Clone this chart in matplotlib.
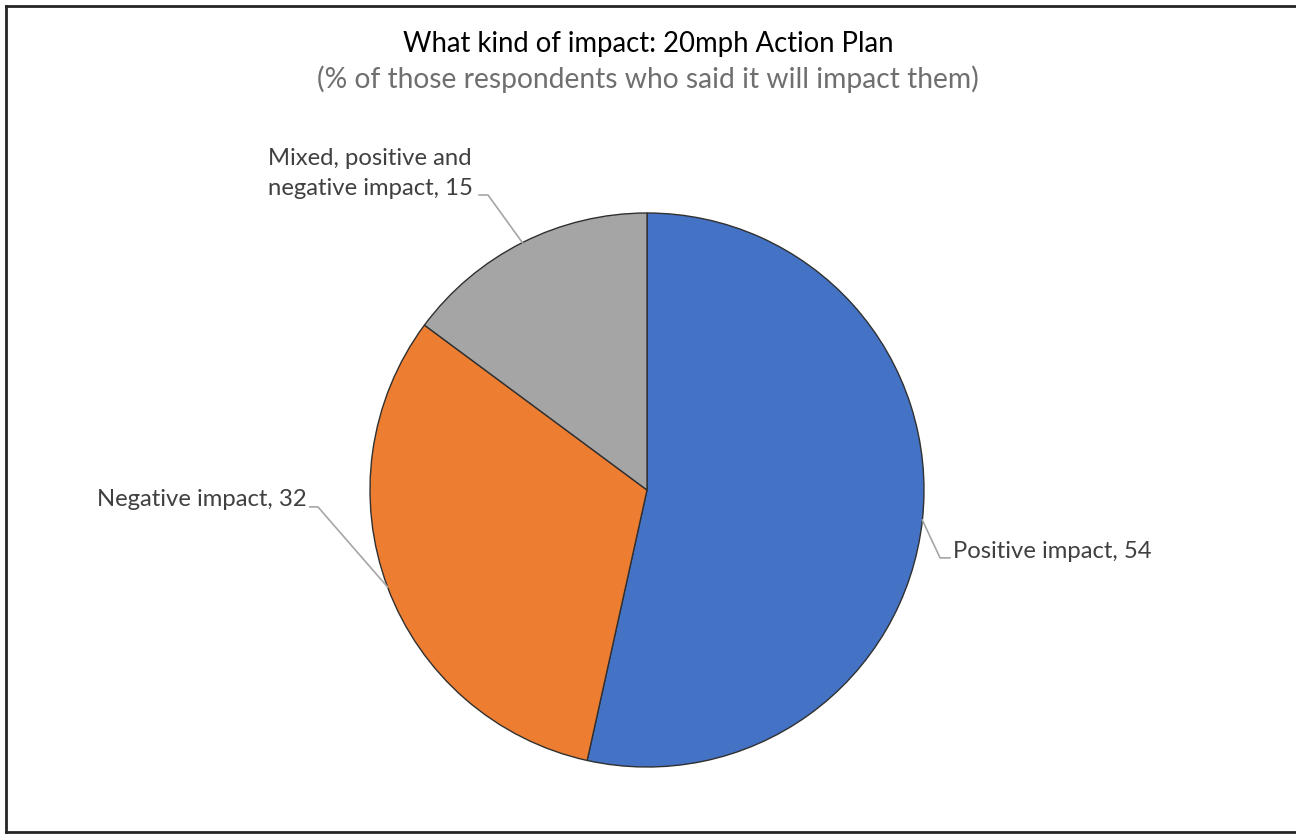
import matplotlib.pyplot as plt
import numpy as np
from matplotlib.lines import Line2D

plt.rcParams['font.family'] = ['Lato', 'DejaVu Sans']

categories = ["Positive impact", "Negative impact", "Mixed, positive and\nnegative impact"]
values = [54, 32, 15]
colors = ["#4472C4", "#ED7D31", "#A5A5A5"]

W, H = 1296, 835
fig = plt.figure(figsize=(W / 100, H / 100), dpi=100)

# pie centre (647, 490) px, radius 277 px
cx, cy, r = 647, 490, 277
ax = fig.add_axes([(cx - r) / W, (H - cy - r) / H, 2 * r / W, 2 * r / H])
wedges, _ = ax.pie(values, colors=colors, startangle=90, counterclock=False,
                   wedgeprops=dict(edgecolor="#303030", linewidth=1.0))
ax.set_xlim(-1, 1)
ax.set_ylim(-1, 1)
ax.set_aspect("equal")

# label placement: (text x, text y, ha, elbow x, elbow y, end x) in pie units
label_pos = [
    (1.105, -0.223, "left", 1.058, -0.245, 1.094),
    (-1.227, -0.035, "right", -1.188, -0.061, -1.217),
    (-1.000, 1.142, "center", -0.574, 1.065, -0.606),
]

for w, name, v, (tx, ty, ha, ex, ey, hx) in zip(wedges, categories, values, label_pos):
    mid = np.deg2rad((w.theta1 + w.theta2) / 2)
    px, py = np.cos(mid), np.sin(mid)
    ax.plot([px, ex, hx], [py, ey, ey], color="#A6A6A6", lw=1.2, clip_on=False)
    ax.text(tx, ty, f"{name}, {v}", ha=ha, va="center", fontsize=17.2,
            color="#404040", multialignment="center", linespacing=1.55,
            clip_on=False)

fig.text(0.5, 1 - 44 / H, "What kind of impact: 20mph Action Plan",
         ha="center", va="center", fontsize=19.8, color="#000000")
fig.text(0.5, 1 - 79 / H, "(% of those respondents who said it will impact them)",
         ha="center", va="center", fontsize=20.3, color="#6F6F6F")

# chart border (left, top, bottom)
bc = "#262626"
fig.add_artist(Line2D([6 / W, 6 / W], [1 - 6 / H, 1 - 832 / H], color=bc, lw=2))
fig.add_artist(Line2D([6 / W, 1], [1 - 6 / H, 1 - 6 / H], color=bc, lw=2))
fig.add_artist(Line2D([6 / W, 1], [1 - 832 / H, 1 - 832 / H], color=bc, lw=2))

fig.savefig("out.png", dpi=100)
